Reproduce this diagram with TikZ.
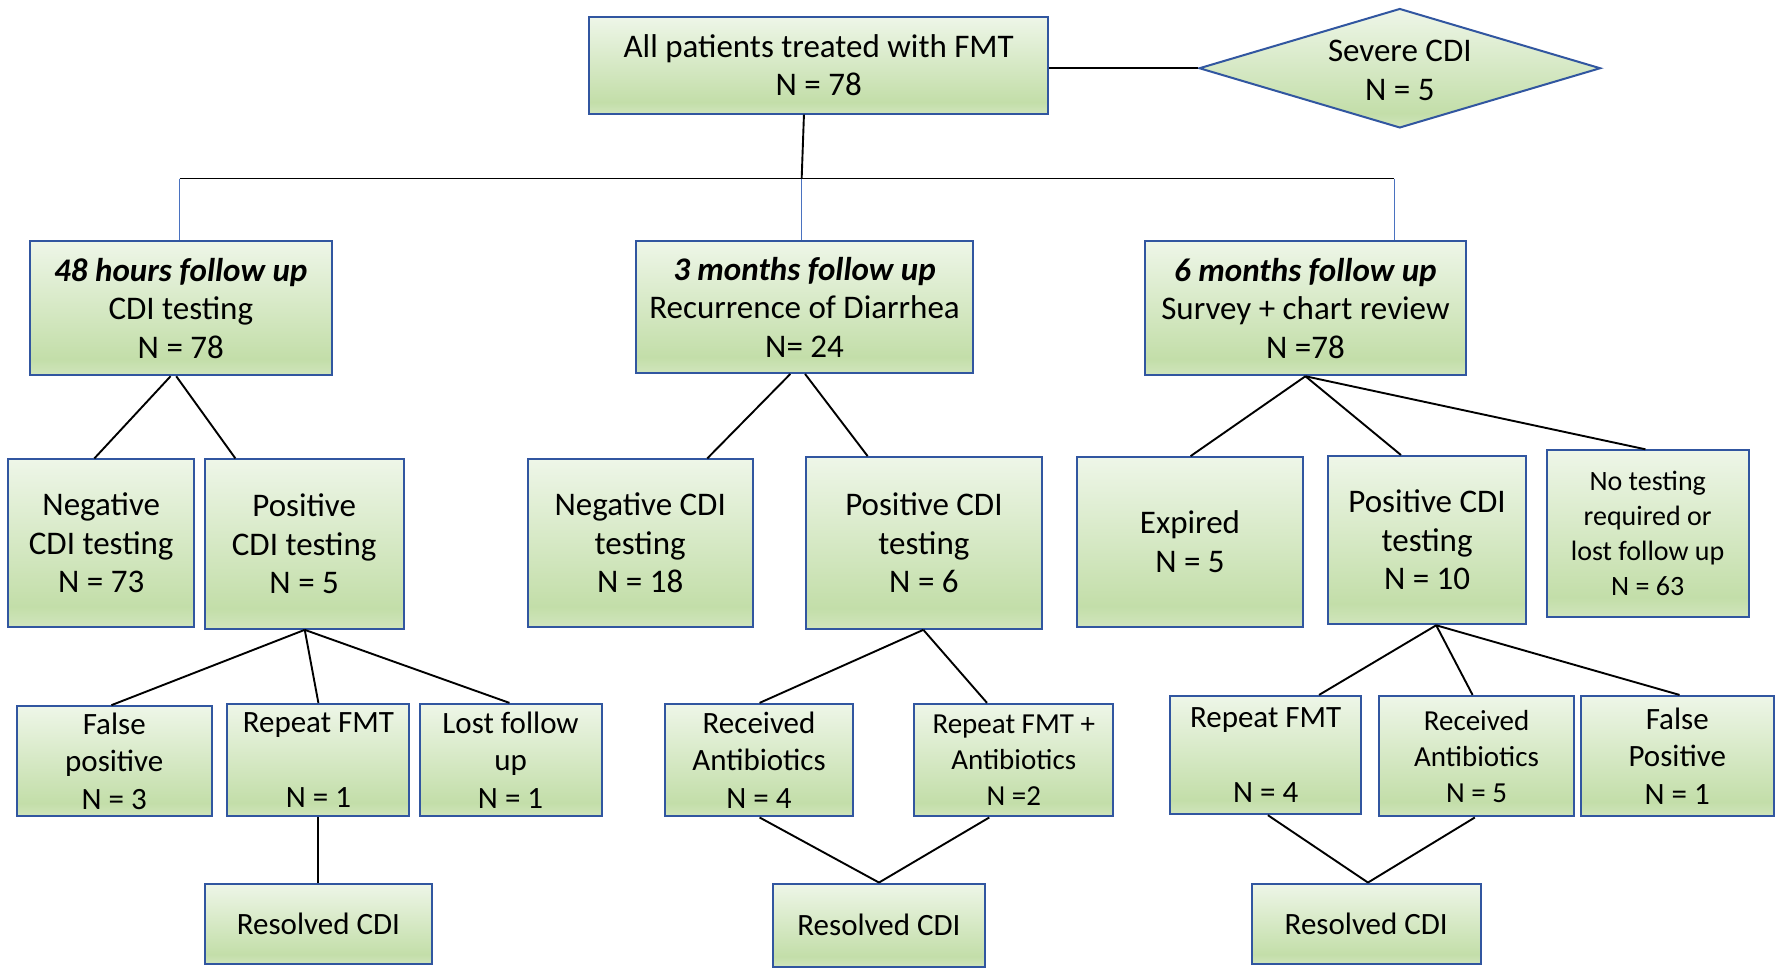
\documentclass[tikz,border=0pt]{standalone}
\usepackage{fontspec}
\setmainfont{Carlito}
\usetikzlibrary{shapes.geometric}
\definecolor{bord}{HTML}{3156A0}
\definecolor{gtop}{HTML}{EEF6E8}
\definecolor{gbot}{HTML}{C3DEA9}
\definecolor{gbl}{HTML}{D0E5BC}
\definecolor{vline}{HTML}{4A72C0}
\pgfdeclareverticalshading{offg}{100bp}{color(0bp)=(gbl); color(25bp)=(gbl);
  color(31bp)=(gbot); color(75bp)=(gtop); color(100bp)=(gtop)}
% box from corner (x1,y1) to (x2,y2), in reference units
\newcommand\mybx[7][]{\node[box,#1, minimum width={(#5-#3)*1.1371pt},
  minimum height={(#6-#4)*1.1371pt}] (#2) at ({(#3+#5)/2},{(#4+#6)/2}) {#7};}
\begin{document}
\begin{tikzpicture}[x=1.1371pt,y=-1.1371pt,
  box/.style={draw=bord, line width=2pt, shade, shading=offg,
    inner sep=0pt, align=center, font=\fontsize{33}{38.5}\selectfont},
  small/.style={font=\fontsize{29}{36}\selectfont},
  mid/.style={font=\fontsize{31}{37.5}\selectfont},
  tiny/.style={font=\fontsize{28}{35}\selectfont},
  conn/.style={line width=1.9pt, black},
  vconn/.style={line width=1.2pt, vline}]
\fill[white] (0,0) rectangle (1568,858);
\useasboundingbox (0,0) rectangle (1568,858);

% top
\mybx{top}{518}{15}{922}{100}{All patients treated with FMT\\N = 78}
\node[diamond, draw=bord, line width=2pt, shade, shading=offg,
  aspect=3.36, inner sep=0pt, minimum width={353*1.1371pt}, minimum height={105*1.1371pt}]
  (sev) at (1231,60) {};
\node[align=center, font=\fontsize{33}{38.5}\selectfont] (sevt) at ([yshift=-2pt]sev.center) {Severe CDI\\N = 5};

% level 1
\mybx{A}{26}{212}{292}{330}{\textbf{\textit{48 hours follow up}}\\CDI testing\\N = 78}
\mybx{B}{559}{212}{856}{328}{\textbf{\textit{3 months follow up}}\\Recurrence of Diarrhea\\N= 24}
\mybx{C}{1007}{212}{1289}{330}{\textbf{\textit{6 months follow up}}\\Survey + chart review\\N =78}

% level 2
\mybx{A1}{7}{404}{171}{551}{Negative\\CDI testing\\N = 73}
\mybx{A2}{180}{404}{355}{553}{Positive\\CDI testing\\N = 5}
\mybx{B1}{464}{404}{662}{551}{Negative CDI\\testing\\N = 18}
\mybx{B2}{709}{402}{916}{553}{Positive CDI\\testing\\N = 6}
\mybx{C1}{947}{402}{1146}{551}{Expired\\N = 5}
\mybx{C2}{1168}{401}{1342}{549}{Positive CDI\\testing\\N = 10}
\mybx[tiny]{C3}{1360}{396}{1538}{543}{No testing\\required or\\lost follow up\\N = 63}

% level 3
\mybx[mid]{A2a}{15}{621}{186}{718}{False\\positive\\N = 3}
\mybx[mid]{A2b}{200}{619}{360}{718}{Repeat FMT\\\mbox{}\\N = 1}
\mybx[mid]{A2c}{369}{619}{529}{718}{Lost follow\\up\\N = 1}
\mybx[mid]{ARes}{180}{777}{380}{848}{Resolved CDI}
\mybx[mid]{B2a}{585}{619}{750}{718}{Received\\Antibiotics\\N = 4}
\mybx[small]{B2b}{804}{619}{979}{718}{Repeat FMT +\\Antibiotics\\N =2}
\mybx[mid]{BRes}{680}{777}{866}{850}{Resolved CDI}
\mybx[mid]{C2a}{1029}{612}{1197}{716}{Repeat FMT\\\mbox{}\\N = 4}
\mybx[small]{C2b}{1213}{612}{1384}{718}{Received\\Antibiotics\\N = 5}
\mybx[mid]{C2c}{1390}{612}{1560}{718}{False\\Positive\\N = 1}
\mybx[mid]{CRes}{1101}{777}{1302}{848}{Resolved CDI}

% connectors
\coordinate (jA) at (158,157);
\coordinate (jB) at (705,157);
\coordinate (jC) at (1226,157);
\draw[conn] (top.east |- sev.west) -- (sev.west);
\draw[conn] (top.south -| 707,0) -- (jB);
\draw[conn] (jA) -- (jC);
\draw[vconn] (jA) -- (jA |- A.north);
\draw[vconn] (jB) -- (jB |- B.north);
\draw[vconn] (jC) -- (jC |- C.north);

\draw[conn] (A.south -| 150,0) -- (A1.north -| 83,0);
\draw[conn] (A.south -| 155,0) -- (A2.north -| 207,0);
\draw[conn] (B.south -| 695,0) -- (B1.north -| 622,0);
\draw[conn] (B.south -| 708,0) -- (B2.north -| 763,0);
\draw[conn] (C.south -| 1148,0) -- (C1.north -| 1047,0);
\draw[conn] (C.south -| 1148,0) -- (C2.north -| 1232,0);
\draw[conn] (C.south -| 1148,0) -- (C3.north -| 1447,0);

\draw[conn] (A2.south -| 268,0) -- (A2a.north -| 98,0);
\draw[conn] (A2.south -| 268,0) -- (A2b.north -| 280,0);
\draw[conn] (A2.south -| 268,0) -- (A2c.north -| 448,0);
\draw[conn] (A2b.south -| 280,0) -- (ARes.north -| 280,0);

\draw[conn] (B2.south -| 812,0) -- (B2a.north -| 668,0);
\draw[conn] (B2.south -| 812,0) -- (B2b.north -| 868,0);
\draw[conn] (B2a.south -| 668,0) -- (BRes.north -| 773,0);
\draw[conn] (B2b.south -| 870,0) -- (BRes.north -| 773,0);

\draw[conn] (C2.south -| 1263,0) -- (C2a.north -| 1160,0);
\draw[conn] (C2.south -| 1263,0) -- (C2b.north -| 1295,0);
\draw[conn] (C2.south -| 1263,0) -- (C2c.north -| 1477,0);
\draw[conn] (C2a.south -| 1115,0) -- (CRes.north -| 1203,0);
\draw[conn] (C2b.south -| 1297,0) -- (CRes.north -| 1203,0);
\end{tikzpicture}
\end{document}
